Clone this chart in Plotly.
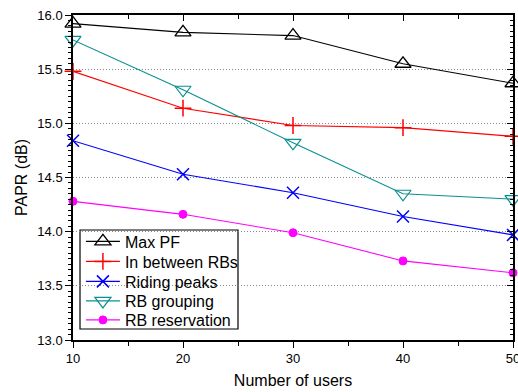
import plotly.graph_objects as go

users = [10, 20, 30, 40, 50]
max_pf = [15.92, 15.84, 15.81, 15.55, 15.37]
in_between = [15.48, 15.14, 14.98, 14.96, 14.88]
riding_peaks = [14.84, 14.53, 14.36, 14.14, 13.97]
rb_grouping = [15.77, 15.31, 14.82, 14.35, 14.30]
rb_reservation = [14.28, 14.16, 13.99, 13.73, 13.62]
x_ticks = [10, 20, 30, 40, 50]

series = [
    ("Max PF", max_pf, "black", "triangle-up-open", 14, 1.3),
    ("In between RBs", in_between, "red", "cross-thin-open", 12, 1.5),
    ("Riding peaks", riding_peaks, "blue", "x-thin-open", 12, 1.5),
    ("RB grouping", rb_grouping, "#0a8f8f", "triangle-down-open", 14, 1.2),
    ("RB reservation", rb_reservation, "magenta", "circle", 8, 1),
]

# plot area in pixels (for legend placement)
T, B = 15, 340
row_centers = [241.5, 261.5, 281.5, 301, 320]

fig = go.Figure()
font = "Arial, Liberation Sans, sans-serif"
legend_layouts = {}
for i, (name, vals, col, sym, sz, lw) in enumerate(series):
    lname = "legend" if i == 0 else f"legend{i + 1}"
    fig.add_trace(go.Scatter(
        x=users, y=vals, name=name, mode="lines+markers",
        line=dict(color=col, width=1.1),
        marker=dict(symbol=sym, size=sz, color=col, line=dict(color=col, width=lw)),
        cliponaxis=False, legend=lname,
    ))
    legend_layouts[lname] = dict(
        x=0.018, y=(B - row_centers[i]) / (B - T), xanchor="left", yanchor="middle",
        bgcolor="rgba(0,0,0,0)", borderwidth=0,
        font=dict(size=16, family=font, color="black"), itemwidth=34,
    )

# mirrored axes (top/right) with inward ticks
fig.add_trace(go.Scatter(x=[10], y=[13], xaxis="x2", yaxis="y2", showlegend=False,
                         mode="markers", marker=dict(opacity=0), hoverinfo="skip"))

fig.update_layout(
    width=518, height=392,
    margin=dict(l=73, r=5, t=15, b=52, autoexpand=False),
    paper_bgcolor="white", plot_bgcolor="white",
    font=dict(family=font, size=13, color="black"),
    showlegend=True,
    **legend_layouts,
    shapes=[dict(type="rect", xref="paper", yref="paper",
                 x0=(80 - 73) / 440, x1=(238 - 73) / 440,
                 y0=(B - 329) / (B - T), y1=(B - 230) / (B - T),
                 line=dict(color="black", width=1.2), fillcolor="white", layer="between")],
    xaxis=dict(range=[10, 50], tickvals=x_ticks, ticks="outside",
               ticklen=6, tickwidth=1.2, tickcolor="black",
               minor=dict(dtick=5, tick0=10, ticks="outside", ticklen=4, tickcolor="black"),
               showline=True, linecolor="black", linewidth=1.5, showgrid=False,
               zeroline=False, automargin=False, ticklabeloverflow="allow",
               title=dict(text="Number of users", font=dict(size=16), standoff=9),
               tickfont=dict(size=13)),
    yaxis=dict(range=[13, 16], dtick=0.5, tick0=13, tickformat=".1f", ticks="outside",
               ticklen=6, tickwidth=1.2, tickcolor="black",
               minor=dict(dtick=0.05, tick0=13, ticks="outside", ticklen=3, tickcolor="black"),
               showline=True, linecolor="black", linewidth=1.5,
               showgrid=True, gridcolor="#888888", griddash="1px,2px", gridwidth=1,
               zeroline=False, automargin=False,
               title=dict(text="PAPR (dB)", font=dict(size=16), standoff=6),
               tickfont=dict(size=13)),
    xaxis2=dict(range=[10, 50], overlaying="x", side="top", tickvals=x_ticks,
                ticks="inside", ticklen=6, tickcolor="black", showticklabels=False,
                minor=dict(dtick=5, tick0=10, ticks="inside", ticklen=4, tickcolor="black"),
                showline=True, linecolor="black", linewidth=1.5, showgrid=False, zeroline=False),
    yaxis2=dict(range=[13, 16], overlaying="y", side="right", dtick=0.5, tick0=13,
                ticks="inside", ticklen=6, tickcolor="black", showticklabels=False,
                minor=dict(dtick=0.05, tick0=13, ticks="inside", ticklen=3, tickcolor="black"),
                showline=True, linecolor="black", linewidth=1.5, showgrid=False, zeroline=False),
)

fig.write_html("out.html", config={"displayModeBar": False},
               post_script="document.body.style.margin='0px';")
